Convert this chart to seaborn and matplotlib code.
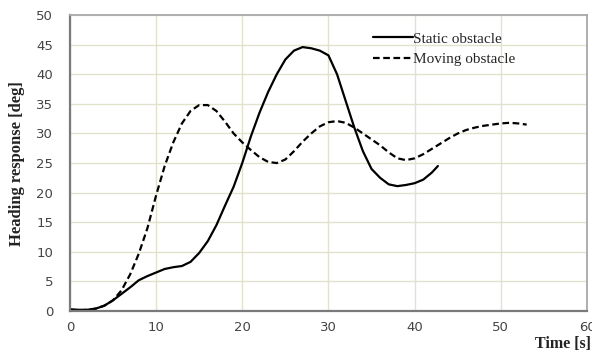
import numpy as np
import pandas as pd
import seaborn as sns
from matplotlib import pyplot as plt

# heading response
t_static = [0, 1, 2, 3, 4, 5, 6, 7, 8, 9, 10, 11, 12, 13, 14, 15, 16, 17, 18, 19, 20,
            21, 22, 23, 24, 25, 26, 27, 28, 29, 30, 31, 32, 33, 34, 35, 36, 37, 38, 39,
            40, 41, 42, 42.7]
v_static = [0.3, 0.2, 0.2, 0.4, 0.9, 1.8, 2.9, 4.0, 5.2, 5.9, 6.5, 7.1, 7.4, 7.6, 8.3,
            9.8, 11.8, 14.5, 17.8, 21.0, 25.0, 29.5, 33.5, 37.0, 40.0, 42.5, 44.0, 44.6,
            44.4, 44.0, 43.2, 40.0, 35.5, 31.0, 27.0, 24.0, 22.5, 21.4, 21.1, 21.3, 21.6,
            22.2, 23.4, 24.5]

t_moving = [0, 1, 2, 3, 4, 5, 6, 7, 8, 9, 10, 11, 12, 13, 14, 15, 16, 17, 18, 19, 20,
            21, 22, 23, 24, 25, 26, 27, 28, 29, 30, 31, 32, 33, 34, 35, 36, 37, 38, 39,
            40, 41, 42, 43, 44, 45, 46, 47, 48, 49, 50, 51, 52, 53]
v_moving = [0.2, 0.1, 0.2, 0.4, 0.9, 1.8, 3.5, 6.2, 9.7, 14.0, 19.5, 24.5, 28.5, 31.7,
            33.8, 34.8, 34.8, 33.8, 32.0, 30.0, 28.5, 27.2, 26.0, 25.2, 25.0, 25.6, 27.0,
            28.6, 30.0, 31.2, 31.9, 32.1, 31.8, 31.0, 30.0, 29.0, 28.0, 26.8, 25.8, 25.5,
            25.8, 26.5, 27.4, 28.3, 29.2, 30.0, 30.6, 31.0, 31.3, 31.5, 31.7, 31.8, 31.7,
            31.5]

static = pd.DataFrame({'Time': t_static, 'Heading': v_static})
moving = pd.DataFrame({'Time': t_moving, 'Heading': v_moving})

sns.set_style('white')
serif = ['Liberation Serif', 'DejaVu Serif']

fig = plt.figure(figsize=(5.92, 3.52), dpi=100)
ax = fig.add_axes([0.118, 0.1165, 0.8736, 0.8405])

sns.lineplot(data=static, x='Time', y='Heading', ax=ax, color='black', lw=1.6,
             label='Static obstacle')
sns.lineplot(data=moving, x='Time', y='Heading', ax=ax, color='black', lw=1.6,
             linestyle=(0, (3, 1.6)), label='Moving obstacle')

ax.set_xlim(0, 60)
ax.set_ylim(0, 50)
ax.set_xticks(range(0, 61, 10))
ax.set_yticks(range(0, 51, 5))
ax.grid(True, color='#e2e2cc', lw=1)
ax.set_axisbelow(True)
ax.tick_params(labelsize=9.5, labelcolor='#444444', direction='in', length=3,
               color='#777777')
ax.tick_params(axis='x', pad=7)
ax.tick_params(axis='y', pad=12)

for s in ['left', 'bottom']:
    ax.spines[s].set_color('#7a7a7a')
    ax.spines[s].set_linewidth(1.6)
for s in ['top', 'right']:
    ax.spines[s].set_color('#a8a8a8')
    ax.spines[s].set_linewidth(1.3)

ax.set_xlabel('')
ax.set_ylabel('Heading response [deg]', family=serif, fontweight='bold',
              fontsize=12, labelpad=8, color='#222222')
fig.text(0.999, 0.0, 'Time [s]', family=serif, fontweight='bold', fontsize=11.5,
         ha='right', va='bottom', color='#222222')

ax.legend(loc='upper left', bbox_to_anchor=(0.56, 0.99), frameon=False,
          prop={'family': serif, 'size': 11}, handlelength=2.6, handletextpad=0.0,
          labelspacing=0.45)

fig.savefig('out.png', dpi=100)
